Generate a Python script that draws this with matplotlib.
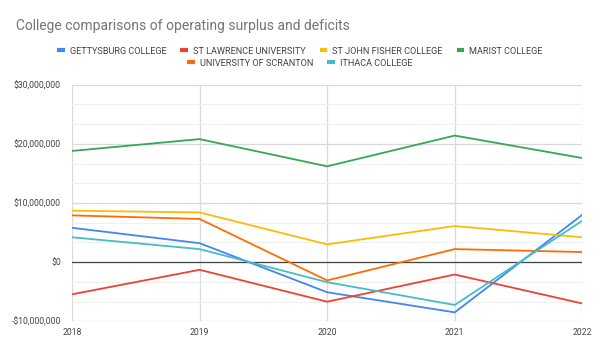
import matplotlib
matplotlib.use("Agg")
import matplotlib.pyplot as plt
from matplotlib.lines import Line2D
from matplotlib.ticker import FuncFormatter, MultipleLocator

plt.rcParams["font.family"] = ["Roboto", "DejaVu Sans"]

years = [2018, 2019, 2020, 2021, 2022]
gettysburg = [5.8e6, 3.2e6, -5.1e6, -8.5e6, 8.0e6]
st_lawrence = [-5.45e6, -1.3e6, -6.7e6, -2.1e6, -7.0e6]
st_john_fisher = [8.7e6, 8.4e6, 3.0e6, 6.1e6, 4.2e6]
marist = [18.8e6, 20.8e6, 16.2e6, 21.4e6, 17.6e6]
scranton = [7.9e6, 7.3e6, -3.1e6, 2.2e6, 1.7e6]
ithaca = [4.2e6, 2.2e6, -3.4e6, -7.25e6, 7.0e6]

names = ["GETTYSBURG COLLEGE", "ST LAWRENCE UNIVERSITY", "ST JOHN FISHER COLLEGE",
         "MARIST COLLEGE", "UNIVERSITY OF SCRANTON", "ITHACA COLLEGE"]
series = [gettysburg, st_lawrence, st_john_fisher, marist, scranton, ithaca]
colors = ["#4285F4", "#EA4335", "#FBBC04", "#34A853", "#FF6D01", "#46BDC6"]

fig = plt.figure(figsize=(6, 3.53), dpi=100)
ax = fig.add_axes([0.12, 0.09, 0.8505, 0.67])

for s, c, n in zip(series, colors, names):
    ax.plot(years, s, color=c, lw=1.3, label=n, zorder=3)

ax.set_xlim(2018, 2022)
ax.set_ylim(-10e6, 30e6)
ax.set_xticks(years)
ax.yaxis.set_major_locator(MultipleLocator(10e6))
ax.yaxis.set_minor_locator(MultipleLocator(10e6 / 3))

def fmt(v, pos):
    if abs(v) < 1:
        return "$0"
    sign = "-" if v < 0 else ""
    return f"{sign}${abs(v):,.0f}"

ax.yaxis.set_major_formatter(FuncFormatter(fmt))
ax.grid(which="major", color="#d9d9d9", lw=0.9, zorder=0)
ax.grid(which="minor", axis="y", color="#efefef", lw=0.8, zorder=0)
ax.axhline(0, color="#444444", lw=0.9, zorder=2)
for sp in ax.spines.values():
    sp.set_visible(False)
ax.tick_params(which="both", length=0, labelsize=6.2, colors="#444444")
ax.tick_params(axis="y", pad=8)
ax.tick_params(axis="x", pad=5)

fig.text(0.027, 0.915, "College comparisons of operating surplus and deficits",
         fontsize=10, color="#757575", ha="left", va="baseline")

def handles(idx):
    return [Line2D([0], [0], color=colors[i], lw=3, solid_capstyle="butt") for i in idx], [names[i] for i in idx]

h1, l1 = handles([0, 1, 2, 3])
h2, l2 = handles([4, 5])
common = dict(frameon=False, fontsize=6.6, handlelength=0.8, handletextpad=0.6,
              columnspacing=1.5, labelcolor="#444444", borderaxespad=0)
leg1 = fig.legend(h1, l1, loc="center", bbox_to_anchor=(0.5, 0.855), ncol=4, **common)
leg2 = fig.legend(h2, l2, loc="center", bbox_to_anchor=(0.5, 0.821), ncol=2, **common)

fig.savefig("out.png", dpi=100)
